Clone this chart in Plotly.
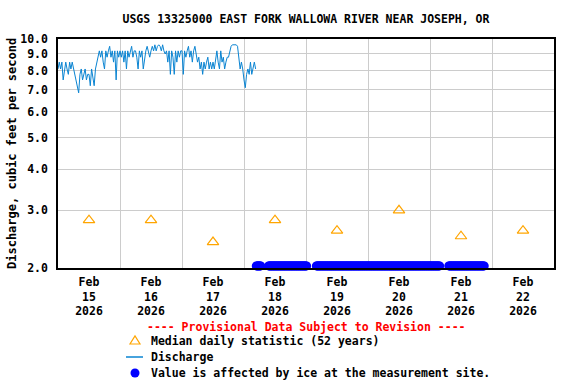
import pandas as pd
import plotly.graph_objects as go

TITLE = "USGS 13325000 EAST FORK WALLOWA RIVER NEAR JOSEPH, OR"
Y_TITLE = "Discharge, cubic feet per second"
PROVISIONAL = "---- Provisional Data Subject to Revision ----"
LEGEND_MEDIAN = "Median daily statistic (52 years)"
LEGEND_DISCHARGE = "Discharge"
LEGEND_ICE = "Value is affected by ice at the measurement site."

# Discharge, 30-minute readings starting Feb 15 2026 00:00
discharge_start = "2026-02-15 00:00"
discharge_values = [
    8.1, 8.5, 8.1, 8.5, 7.5, 8.1, 8.5, 8.1, 7.8, 8.5, 8.1, 8.5,
    8.1, 7.8, 7.5, 7.2, 6.85, 7.8, 8.1, 7.5, 7.8, 8.1, 7.5, 7.8,
    7.8, 7.2, 8.1, 7.5, 7.2, 8.1, 8.5, 8.8, 9.2, 8.8, 9.2, 8.5,
    8.1, 9.2, 8.8, 9.2, 9.5, 8.8, 9.2, 8.5, 9.2, 7.5, 9.2, 8.8,
    9.2, 8.8, 9.2, 8.5, 9.2, 8.1, 9.2, 8.8, 9.2, 9.5, 8.8, 9.2,
    9.2, 8.8, 8.1, 9.2, 8.8, 9.2, 8.1, 8.8, 9.2, 9.5, 9.2, 8.8,
    9.2, 9.5, 9.2, 9.6, 9.2, 9.5, 9.6, 9.5, 9.2, 9.6, 9.2, 9.0,
    9.2, 8.5, 9.2, 7.8, 9.2, 8.8, 7.8, 9.2, 8.5, 9.2, 8.8, 9.2,
    9.2, 7.8, 9.2, 8.8, 9.2, 9.5, 8.8, 9.2, 8.5, 9.2, 9.5, 8.8,
    8.5, 8.8, 8.1, 8.5, 7.8, 8.5, 8.1, 8.5, 8.8, 8.1, 8.5, 8.1,
    8.5, 8.1, 8.8, 9.2, 8.5, 8.1, 9.2, 8.5, 8.8, 8.1, 8.5, 8.8,
    8.8, 9.2, 9.5, 9.6, 9.6, 9.6, 9.6, 9.5, 8.5, 8.1, 8.5, 8.1,
    7.5, 7.1, 7.8, 8.1, 7.8, 8.5, 7.8, 8.1, 8.5, 8.1,
]

# Median daily statistic (52 years), one per day at noon
median_dates = ["2026-02-15 12:00", "2026-02-16 12:00", "2026-02-17 12:00",
                "2026-02-18 12:00", "2026-02-19 12:00", "2026-02-20 12:00",
                "2026-02-21 12:00", "2026-02-22 12:00"]
median_values = [2.8, 2.8, 2.4, 2.8, 2.6, 3.0, 2.5, 2.6]

# Periods where values are affected by ice (15-minute readings)
ice_periods = [
    ("2026-02-18 04:45", "2026-02-18 06:30"),
    ("2026-02-18 09:30", "2026-02-19 00:15"),
    ("2026-02-19 04:00", "2026-02-21 03:45"),
    ("2026-02-21 07:15", "2026-02-21 21:00"),
]
ice_value = 2.03

x_tick_dates = median_dates
x_tick_labels = ["Feb<br>15<br>2026", "Feb<br>16<br>2026", "Feb<br>17<br>2026",
                 "Feb<br>18<br>2026", "Feb<br>19<br>2026", "Feb<br>20<br>2026",
                 "Feb<br>21<br>2026", "Feb<br>22<br>2026"]
grid_dates = ["2026-02-15", "2026-02-16", "2026-02-17", "2026-02-18",
              "2026-02-19", "2026-02-20", "2026-02-21", "2026-02-22"]
y_ticks = [2, 3, 4, 5, 6, 7, 8, 9, 10]
y_tick_labels = ["2.0", "3.0", "4.0", "5.0", "6.0", "7.0", "8.0", "9.0", "10.0"]

FONT = "DejaVu Sans Mono"
LINE_COLOR = "#0a84d2"
MEDIAN_COLOR = "#ffa500"
ICE_COLOR = "#0000ff"

discharge_times = pd.date_range(discharge_start, periods=len(discharge_values), freq="30min")
ice_times = []
for a, b in ice_periods:
    ice_times.extend(pd.date_range(a, b, freq="15min"))
ice_y = [ice_value] * len(ice_times)

fig = go.Figure()
fig.add_trace(go.Scatter(
    x=discharge_times, y=discharge_values, mode="lines", name=LEGEND_DISCHARGE,
    line=dict(color=LINE_COLOR, width=1),
))
fig.add_trace(go.Scatter(
    x=median_dates, y=median_values, mode="markers", name=LEGEND_MEDIAN,
    marker=dict(symbol="triangle-up-open", size=10, color=MEDIAN_COLOR,
                line=dict(width=1.2, color=MEDIAN_COLOR)),
))
fig.add_trace(go.Scatter(
    x=ice_times, y=ice_y, mode="markers", name=LEGEND_ICE,
    marker=dict(symbol="circle", size=9, color=ICE_COLOR),
    cliponaxis=False,
))

# plot area in pixels: x 58..554, y 39..268
def px(X):
    return (X - 58) / 496.0

def py(Y):
    return (268 - Y) / 229.0

legend_font = dict(family=FONT, size=11.5, color="black", weight="bold")
annotations = [
    dict(text=Y_TITLE, x=px(12), y=py(154), xref="paper", yref="paper",
         xanchor="center", yanchor="middle", textangle=-90, showarrow=False,
         font=dict(family=FONT, size=12, color="black", weight="bold")),
    dict(text=PROVISIONAL, x=px(306), y=py(327), xref="paper", yref="paper",
         xanchor="center", yanchor="middle", showarrow=False,
         font=dict(family=FONT, size=11.5, color="red", weight="bold")),
    dict(text=LEGEND_MEDIAN, x=px(149), y=py(341), xref="paper", yref="paper",
         xanchor="left", yanchor="middle", showarrow=False, font=legend_font),
    dict(text=LEGEND_DISCHARGE, x=px(149), y=py(357), xref="paper", yref="paper",
         xanchor="left", yanchor="middle", showarrow=False, font=legend_font),
    dict(text=LEGEND_ICE, x=px(149), y=py(373), xref="paper", yref="paper",
         xanchor="left", yanchor="middle", showarrow=False, font=legend_font),
]
shapes = [
    dict(type="path", xref="paper", yref="paper", xsizemode="pixel", ysizemode="pixel",
         xanchor=px(135), yanchor=py(340), path="M -5 -4 L 5 -4 L 0 4 Z",
         line=dict(color=MEDIAN_COLOR, width=1.2), fillcolor="rgba(0,0,0,0)"),
    dict(type="line", xref="paper", yref="paper", xsizemode="pixel", ysizemode="pixel",
         xanchor=px(135), yanchor=py(357), x0=-9, x1=8, y0=0, y1=0,
         line=dict(color=LINE_COLOR, width=1.5)),
    dict(type="circle", xref="paper", yref="paper", xsizemode="pixel", ysizemode="pixel",
         xanchor=px(135), yanchor=py(373), x0=-4.5, x1=4.5, y0=-4.5, y1=4.5,
         line=dict(width=0), fillcolor=ICE_COLOR),
]

fig.update_layout(
    width=576, height=384,
    margin=dict(l=58, r=22, t=39, b=116, autoexpand=False),
    paper_bgcolor="white", plot_bgcolor="white",
    font=dict(family=FONT, size=12, color="black", weight="bold"),
    title=dict(text=TITLE, x=px(306), xref="paper", xanchor="center",
               y=1 - 19 / 384.0, yanchor="middle",
               font=dict(family=FONT, size=11.5, color="black", weight="bold")),
    showlegend=False,
    annotations=annotations,
    shapes=shapes,
)
fig.update_xaxes(
    type="date",
    range=["2026-02-15 00:00", "2026-02-23 00:00"],
    tickmode="array", tickvals=x_tick_dates, ticktext=x_tick_labels,
    showgrid=False, ticks="", ticklabelstandoff=2,
    showline=True, linecolor="black", linewidth=1.5, mirror=True,
    minor=dict(tickmode="array", tickvals=grid_dates, showgrid=True,
               gridcolor="#cccccc", gridwidth=1, ticks=""),
    zeroline=False,
    tickfont=dict(family=FONT, size=11.5, color="black", weight="bold"),
)
fig.update_yaxes(
    type="log", range=[0.30103, 1.0],
    tickmode="array", tickvals=y_ticks, ticktext=y_tick_labels,
    showgrid=True, gridcolor="#cccccc", gridwidth=1, ticks="",
    showline=True, linecolor="black", linewidth=1.5, mirror=True,
    zeroline=False, ticklabelstandoff=6,
    tickfont=dict(family=FONT, size=11.5, color="black", weight="bold"),
)

fig.write_html("out.html",
               config={"displayModeBar": False},
               post_script="document.body.style.margin='0';document.body.style.padding='0';"
                           "document.documentElement.style.overflow='hidden';")
